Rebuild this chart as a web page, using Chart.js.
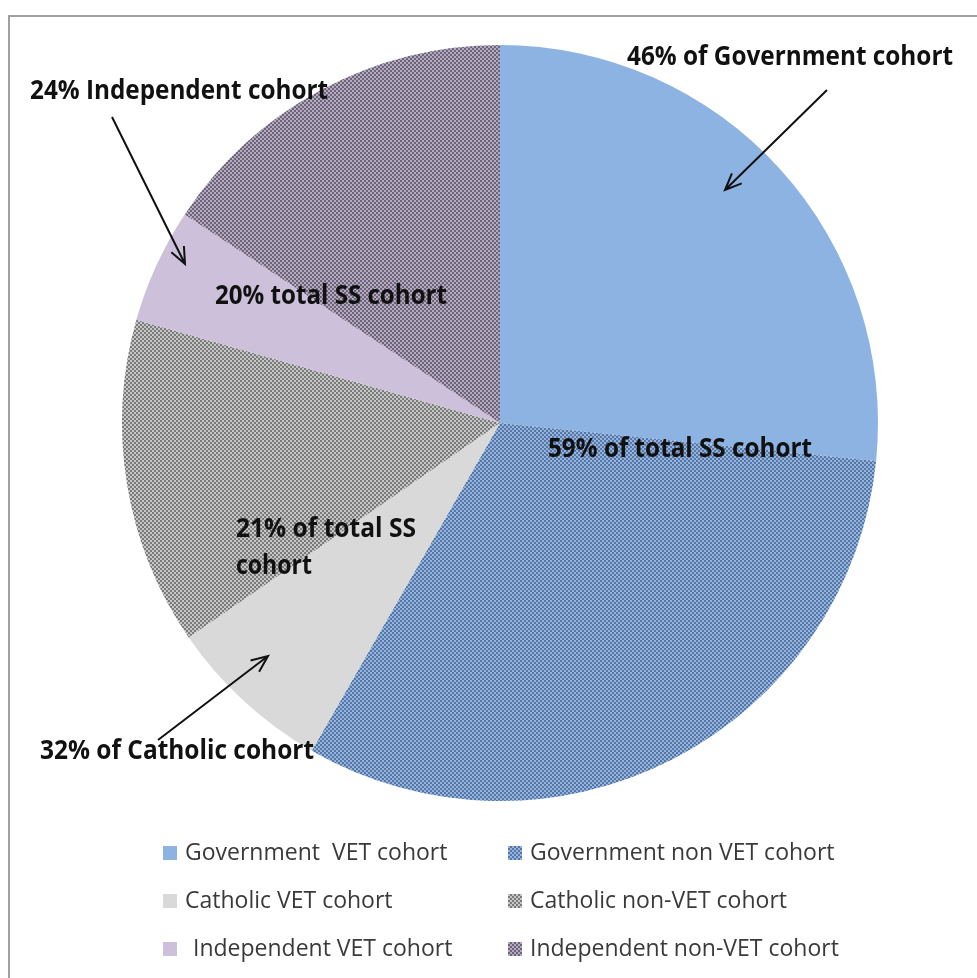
<!DOCTYPE html>
<html>
<head>
<meta charset="utf-8">
<script src="https://cdn.jsdelivr.net/npm/chart.js@4/dist/chart.umd.min.js"></script>
<style>
  html, body { margin: 0; padding: 0; background: #fff; }
  #wrap { position: relative; width: 977px; height: 978px; }
</style>
</head>
<body>
<div id="wrap"><canvas id="cohort-chart" width="977" height="978"></canvas></div>
<script>
// Chart data (percent of total senior secondary cohort)
const labels = [
  'Government  VET cohort',
  'Government non VET cohort',
  'Catholic VET cohort',
  'Catholic non-VET cohort',
  'Independent VET cohort',
  'Independent non-VET cohort',
];
const shares = [26.6, 31.7, 7.1, 14.0, 4.9, 15.7];

// Callout texts
const calloutTexts = [
  '46% of Government cohort',
  '24% Independent cohort',
  '20% total SS cohort',
  '59% of total SS cohort',
  '21% of total SS',
  'cohort',
  '32% of Catholic cohort',
];

// Small two-tone tile, used for the hatched slices
function makePattern(dark, light) {
  const tile = document.createElement('canvas');
  tile.width = 4;
  tile.height = 4;
  const t = tile.getContext('2d');
  t.fillStyle = light;
  t.fillRect(0, 0, 4, 4);
  t.fillStyle = dark;
  t.fillRect(0, 0, 2, 2);
  t.fillRect(2, 2, 2, 2);
  return t.createPattern(tile, 'repeat');
}

const sliceColors = [
  '#8db3e2',
  makePattern('#56779f', '#94b3e2'),
  '#d9d9d9',
  makePattern('#7a7a7a', '#c6c6c6'),
  '#ccc0da',
  makePattern('#6e6479', '#b4aabf'),
];

// Frame, callouts, arrows and the two-column legend
const decorPlugin = {
  id: 'decor',
  beforeDraw(chart) {
    const ctx = chart.ctx;
    ctx.save();
    ctx.strokeStyle = '#a0a0a0';
    ctx.lineWidth = 2;
    ctx.beginPath();
    ctx.moveTo(9, 990);
    ctx.lineTo(9, 16);
    ctx.lineTo(990, 16);
    ctx.stroke();
    ctx.restore();
  },
  afterDraw(chart) {
    const ctx = chart.ctx;
    ctx.save();

    // callout text: [index, x, y, maxWidth]
    const spots = [
      [0, 627, 58, 326],
      [1, 30, 92, 298],
      [2, 215, 297, 232],
      [3, 548, 450, 264],
      [4, 236, 530, 180],
      [5, 236, 567, 76],
      [6, 40, 752, 274],
    ];
    ctx.fillStyle = '#111';
    ctx.font = 'bold 26px "Open Sans"';
    ctx.textBaseline = 'middle';
    ctx.textAlign = 'left';
    spots.forEach(([i, x, y, w]) => {
      ctx.fillText(calloutTexts[i], x, y, w);
    });

    // arrows: from -> to (head at "to")
    const arrows = [
      [827, 90, 725, 190],
      [112, 117, 185, 264],
      [158, 740, 268, 656],
    ];
    ctx.strokeStyle = '#111';
    ctx.lineWidth = 2;
    arrows.forEach(([x1, y1, x2, y2]) => {
      const a = Math.atan2(y2 - y1, x2 - x1);
      ctx.beginPath();
      ctx.moveTo(x1, y1);
      ctx.lineTo(x2, y2);
      ctx.moveTo(x2 - 18 * Math.cos(a - 0.4), y2 - 18 * Math.sin(a - 0.4));
      ctx.lineTo(x2, y2);
      ctx.lineTo(x2 - 18 * Math.cos(a + 0.4), y2 - 18 * Math.sin(a + 0.4));
      ctx.stroke();
    });

    // legend, two columns
    const cols = [163, 508];
    const rows = [853, 901, 949];
    ctx.font = '23px "Open Sans"';
    labels.forEach((label, i) => {
      const x = cols[i % 2];
      const y = rows[Math.floor(i / 2)];
      ctx.fillStyle = sliceColors[i];
      ctx.fillRect(x, y - 7, 14, 14);
      ctx.fillStyle = '#3a3a3a';
      const tx = (i === 4) ? x + 30 : x + 22;
      const maxW = [268, 313, 235, 262, 262, 313][i];
      ctx.fillText(label, tx, y, maxW);
    });
    ctx.restore();
  },
};

const ctx = document.getElementById('cohort-chart').getContext('2d');
const cohortChart = new Chart(ctx, {
  type: 'pie',
  data: {
    labels,
    datasets: [{
      data: shares,
      backgroundColor: sliceColors,
      borderWidth: 0,
    }],
  },
  options: {
    responsive: false,
    animation: false,
    layout: {
      padding: { left: 122, right: 99, top: 45, bottom: 177 },
    },
    plugins: {
      legend: { display: false },
      tooltip: { enabled: false },
    },
  },
  plugins: [decorPlugin],
});
</script>
</body>
</html>
